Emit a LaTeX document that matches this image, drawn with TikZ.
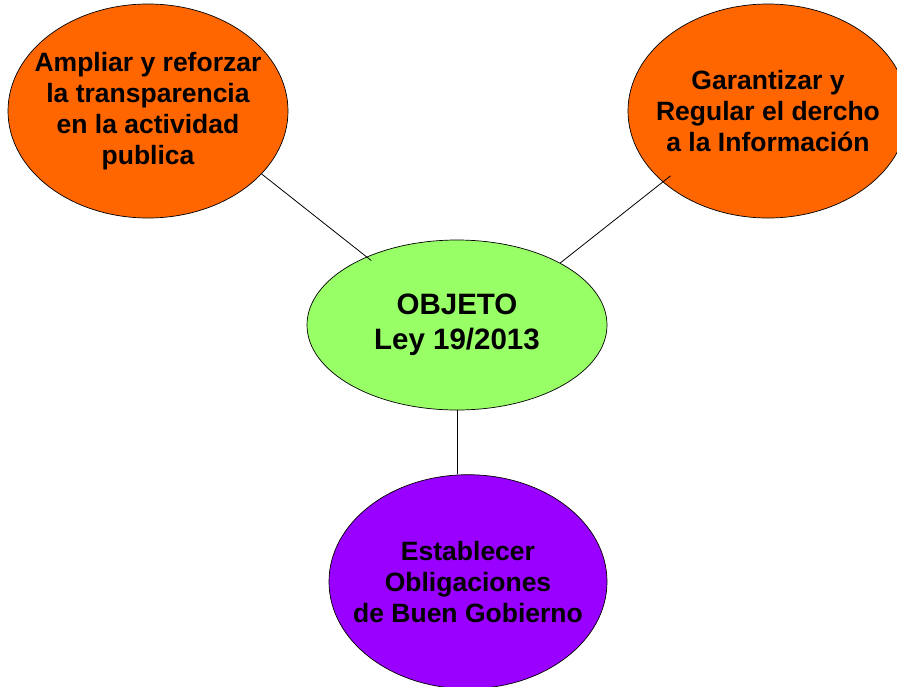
\documentclass[tikz,border=0pt]{standalone}
\usepackage{fontspec}
\setmainfont{Liberation Sans}
\usetikzlibrary{positioning, shapes.geometric}
\definecolor{naranja}{HTML}{FF6600}
\definecolor{verde}{HTML}{99FF66}
\definecolor{morado}{HTML}{9900FF}

\begin{document}
\begin{tikzpicture}[x=1pt, y=-1pt, every node/.style={draw, ellipse, align=center, inner sep=-30pt, line width=0.7pt, font=\bfseries\fontsize{26.5}{31}\selectfont}]
\useasboundingbox (0,0) rectangle (897,686);
\node[fill=verde, minimum width=300pt, minimum height=170pt, font=\bfseries\fontsize{29.5}{35}\selectfont] (objeto) at (457,325) {OBJETO\\Ley 19/2013};
\node[fill=naranja, minimum width=280pt, minimum height=214pt] (transparencia) at (148,111) {Ampliar y reforzar\\la transparencia\\en la actividad\\publica};
\node[fill=naranja, minimum width=280pt, minimum height=214pt] (derecho) at (768,111) {Garantizar y\\Regular el dercho\\a la Informaci\'on};
\node[fill=morado, minimum width=278pt, minimum height=214pt, below=64pt of objeto, xshift=11pt] (gobierno) {Establecer\\Obligaciones\\de Buen Gobierno};
\draw[line width=0.8pt, shorten >=-6pt] (transparencia.-29) -- (objeto.143);
\draw[line width=0.8pt, shorten >=-10pt] (objeto.31) -- (derecho.214);
\draw[line width=0.8pt] (objeto.south) -- (objeto.south |- gobierno.north);
\end{tikzpicture}
\end{document}
